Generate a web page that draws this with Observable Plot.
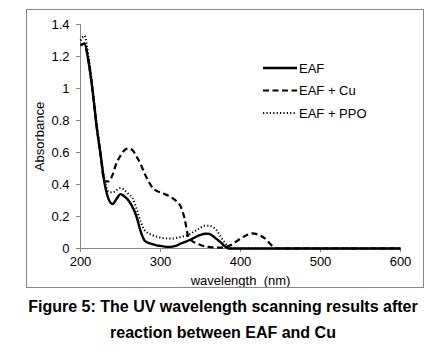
<!DOCTYPE html>
<html>
<head>
<meta charset="utf-8">
<script src="https://cdn.jsdelivr.net/npm/d3@7"></script>
<script src="https://cdn.jsdelivr.net/npm/@observablehq/plot@0.6"></script>
<style>
  html, body { margin: 0; padding: 0; background: #fff; }
  #wrap { width: 446px; position: relative; }
  #caption { width: 446px; text-align: center; font-family: "Liberation Sans", Arial, sans-serif; font-weight: bold; font-size: 16px; line-height: 26px; color: #000; margin-top: 2px; }
</style>
</head>
<body>
<div id="wrap"></div>
<div id="caption">Figure 5: The UV wavelength scanning results after<br>reaction between EAF and Cu</div>
<script>
const wavelength = [200,205,210,215,220,225,230,235,240,245,250,255,260,265,270,275,280,285,290,295,300,305,310,315,320,325,330,335,340,345,350,355,360,365,370,375,380,385,390,395,400,405,410,415,420,425,430,435,440,445,450,600];
const eaf = [1.27,1.28,1.17,0.99,0.77,0.59,0.41,0.31,0.278,0.31,0.34,0.325,0.30,0.26,0.20,0.11,0.05,0.035,0.027,0.02,0.016,0.012,0.01,0.012,0.018,0.03,0.04,0.05,0.062,0.075,0.085,0.092,0.092,0.08,0.06,0.04,0.015,0,0,0,0,0,0,0,0,0,0,0,0,0,0,0];
const eafCu = [1.27,1.28,1.17,0.99,0.77,0.59,0.42,0.42,0.46,0.535,0.58,0.615,0.625,0.615,0.575,0.53,0.47,0.42,0.38,0.36,0.35,0.34,0.33,0.315,0.295,0.265,0.19,0.07,0.045,0.032,0.022,0.014,0.01,0.007,0.005,0.005,0.008,0.015,0.027,0.045,0.062,0.077,0.088,0.094,0.09,0.08,0.065,0.04,0.015,0,0,0];
const eafPPO = [1.30,1.33,1.20,1.01,0.79,0.60,0.43,0.355,0.35,0.365,0.378,0.365,0.34,0.315,0.25,0.17,0.115,0.095,0.083,0.075,0.068,0.064,0.062,0.062,0.066,0.072,0.078,0.085,0.10,0.115,0.13,0.142,0.143,0.135,0.115,0.075,0.04,0.01,0,0,0,0,0,0,0,0,0,0,0,0,0,0];
const seriesNames = ["EAF", "EAF + Cu", "EAF + PPO"];
const xTicks = [200,300,400,500,600];
const yTicks = [0,0.2,0.4,0.6,0.8,1,1.2,1.4];

const styles = [
  {strokeWidth: 2.4, strokeDasharray: "none"},
  {strokeWidth: 2.2, strokeDasharray: "6,3.5"},
  {strokeWidth: 2, strokeDasharray: "1.2,2.2"}
];
const seriesValues = [eaf, eafCu, eafPPO];
const rows = seriesValues.map((vals, i) => wavelength.map((w, j) => ({wl: w, v: vals[j], s: seriesNames[i]})));

const W = 446, H = 292;
const axisGray = "#868686";
const font = "Liberation Sans, Arial, sans-serif";

const chart = Plot.plot({
  width: W, height: H,
  marginLeft: 80, marginRight: 46, marginTop: 24, marginBottom: 44,
  style: {fontFamily: font, fontSize: "13px", color: "#000", background: "#fff"},
  x: {domain: [200, 600]},
  y: {domain: [0, 1.4]},
  marks: [
    Plot.axisX({ticks: xTicks, tickSize: 4, tickPadding: 4, stroke: axisGray, label: "wavelength  (nm)", labelAnchor: "center", labelOffset: 36, labelArrow: false, fill: "#000"}),
    Plot.axisY({ticks: yTicks, tickSize: 4, tickPadding: 7, stroke: axisGray, label: "Absorbance", labelAnchor: "center", labelOffset: 46, labelArrow: false, tickFormat: d => String(d), fill: "#000"}),
    Plot.ruleY([0], {stroke: axisGray, strokeWidth: 1}),
    Plot.ruleX([200], {stroke: axisGray, strokeWidth: 1}),
    ...rows.map((r, i) => Plot.line(r, {x: "wl", y: "v", stroke: "#000", strokeWidth: styles[i].strokeWidth, strokeDasharray: styles[i].strokeDasharray, strokeLinecap: "butt", curve: "monotone-x"}))
  ]
});

document.getElementById("wrap").appendChild(chart);

const svg = d3.select(chart);
// outer chart border
svg.append("rect").attr("x", 26.5).attr("y", 9.5).attr("width", 397).attr("height", 278)
  .attr("fill", "none").attr("stroke", axisGray).attr("stroke-width", 1);

// legend
const leg = svg.append("g").attr("font-family", font).attr("font-size", "13px").attr("text-anchor", "start");
seriesNames.forEach((name, i) => {
  const y = 68 + i * 22.5;
  leg.append("line").attr("x1", 263).attr("x2", 297).attr("y1", y).attr("y2", y)
    .attr("stroke", "#000").attr("stroke-width", styles[i].strokeWidth)
    .attr("stroke-dasharray", styles[i].strokeDasharray);
  leg.append("text").attr("x", 299).attr("y", y).attr("dy", "0.36em").attr("fill", "#000")
    .attr("text-anchor", "start").text(name);
});
</script>
</body>
</html>
